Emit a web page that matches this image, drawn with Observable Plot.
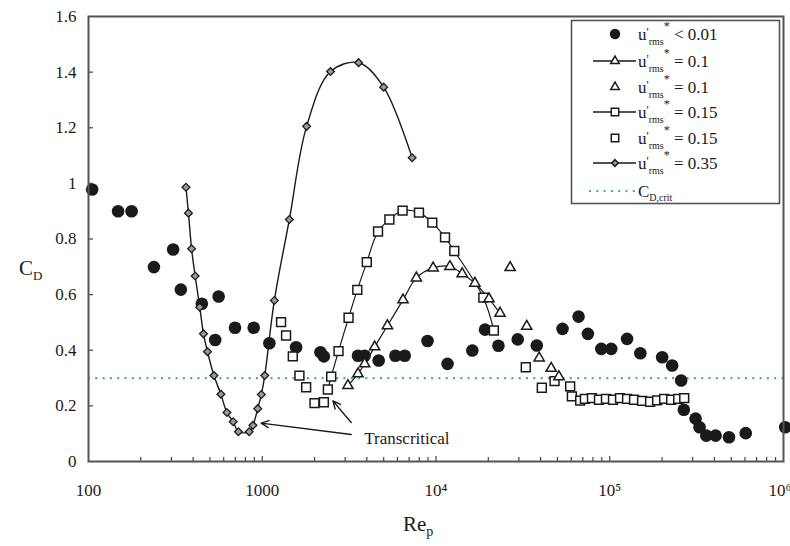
<!DOCTYPE html>
<html><head><meta charset="utf-8">
<script src="https://cdn.jsdelivr.net/npm/d3@7"></script>
<script src="https://cdn.jsdelivr.net/npm/@observablehq/plot@0.6"></script>
<style>
body{margin:0;background:#fff;}
#chart{width:790px;height:546px;}
#chart svg text{font-family:"Liberation Serif","DejaVu Serif",serif;}
</style></head><body><div id="chart"></div>
<script>
// u'rms* < 0.01 (filled circles)
const reLow = [105,148,177,238,307,340,449,561,536,697,893,1099,1566,2163,2262,3556,3883,4677,5838,6606,8940,11650,16180,19150,22870,29540,38010,53490,66150,74860,89400,102000,125800,150000,200300,228600,257600,266900,311800,328700,359400,406700,485700,606200,1023000];
const cdLow = [0.978,0.900,0.900,0.699,0.762,0.618,0.567,0.593,0.437,0.481,0.481,0.425,0.411,0.393,0.378,0.380,0.380,0.363,0.380,0.380,0.433,0.351,0.399,0.474,0.416,0.439,0.417,0.477,0.521,0.459,0.405,0.405,0.441,0.389,0.375,0.345,0.291,0.186,0.154,0.123,0.093,0.093,0.087,0.102,0.123];
// u'rms* = 0.1 (triangles with line)
const reTriLine = [3112,3556,3884,4437,5252,6460,7710,9630,12020,14150,16750,20180,23360];
const cdTriLine = [0.273,0.315,0.351,0.412,0.488,0.581,0.660,0.696,0.701,0.675,0.641,0.585,0.533];
// u'rms* = 0.1 (triangles only)
const reTri = [26700,33270,39240,46000,51000];
const cdTri = [0.697,0.486,0.372,0.335,0.305];
// u'rms* = 0.15 (squares with line)
const reSqLine = [2386,2494,2748,3139,3524,3997,4639,5390,6424,7979,9520,11270,12740,18730,21530];
const cdSqLine = [0.259,0.305,0.397,0.517,0.617,0.717,0.827,0.870,0.902,0.895,0.859,0.806,0.757,0.589,0.471];
// u'rms* = 0.15 (squares only)
const reSq = [1283,1371,1499,1637,1789,1998,2263,32860,40640,48100,59180,60520,67600,71940,78970,86700,95100,104400,114600,125800,138000,153500,170700,187400,205600,225700,247700,268300];
const cdSq = [0.501,0.453,0.378,0.309,0.267,0.210,0.213,0.339,0.265,0.289,0.270,0.234,0.219,0.225,0.228,0.222,0.225,0.222,0.228,0.225,0.222,0.218,0.215,0.220,0.225,0.222,0.225,0.228];
// u'rms* = 0.35 (diamonds with line)
const reDia = [364,376,392,411,437,459,484,527,578,626,680,729,841,884,942,988,1034,1174,1432,1800,2471,3585,4996,7290];
const cdDia = [0.986,0.893,0.765,0.667,0.555,0.459,0.395,0.309,0.242,0.176,0.143,0.107,0.107,0.130,0.190,0.241,0.309,0.579,0.870,1.205,1.402,1.434,1.346,1.092];
// critical drag coefficient
const cdCrit = [0.3];

const legendLabels = ["< 0.01","= 0.1","= 0.1","= 0.15","= 0.15","= 0.35"];
const yTicks = [0,0.2,0.4,0.6,0.8,1,1.2,1.4,1.6];
const yTickLabels = ["0","0.2","0.4","0.6","0.8","1","1.2","1.4","1.6"];
const xTicks = [100,1000,1e4,1e5,1e6];
const xTickLabels = ["100","1000","10\u2074","10\u2075","10\u2076"];

// annotation
const annText = ["Transcritical"];
const annX = [3863], annY = [0.083];
const arrX1 = [3250,3250], arrY1 = [0.097,0.140];
const arrX2 = [985,2551],  arrY2 = [0.138,0.218];

const W = 790, H = 546, mL = 88, mR = 7, mT = 16, mB = 85;
const pw = W - mL - mR, ph = H - mT - mB;
const xMinor = [];
for (let e = 2; e < 6; e++) for (let k = 2; k < 10; k++) xMinor.push(k * 10 ** e);

const zip = (a, b) => a.map((v, i) => ({x: v, y: b[i]}));
const low = zip(reLow, cdLow), triL = zip(reTriLine, cdTriLine), tri = zip(reTri, cdTri);
const sqL = zip(reSqLine, cdSqLine), sq = zip(reSq, cdSq), dia = zip(reDia, cdDia);
const ink = "#1a1a1a";
const teal = "#4fa89a";
const fam = '"Liberation Serif", "DejaVu Serif", serif';
const xFmt = d => xTickLabels[xTicks.indexOf(d)];

const plot = Plot.plot({
  width: W, height: H, marginLeft: mL, marginRight: mR, marginTop: mT, marginBottom: mB,
  style: {fontFamily: fam, fontSize: "17px", color: ink, background: "#fff"},
  x: {type: "log", domain: [100, 1e6], label: null},
  y: {domain: [0, 1.6], label: null},
  marks: [
    Plot.ruleY(cdCrit, {stroke: teal, strokeWidth: 2.2, strokeDasharray: "2,5.3"}),
    Plot.line(dia, {x: "x", y: "y", curve: "catmull-rom", stroke: ink, strokeWidth: 1.4}),
    Plot.line(sqL, {x: "x", y: "y", curve: "catmull-rom", stroke: ink, strokeWidth: 1.2}),
    Plot.line(triL, {x: "x", y: "y", curve: "catmull-rom", stroke: ink, strokeWidth: 1.2}),
    Plot.dot(low, {x: "x", y: "y", r: 6.3, fill: ink, stroke: "none"}),
    Plot.dot(sq, {x: "x", y: "y", symbol: "square", r: 5, fill: "#fff", stroke: ink, strokeWidth: 1.5}),
    Plot.dot(sqL, {x: "x", y: "y", symbol: "square", r: 5, fill: "#fff", stroke: ink, strokeWidth: 1.5}),
    Plot.dot(tri, {x: "x", y: "y", symbol: "triangle", r: 3.8, fill: "#fff", stroke: ink, strokeWidth: 1.5}),
    Plot.dot(triL, {x: "x", y: "y", symbol: "triangle", r: 3.8, fill: "#fff", stroke: ink, strokeWidth: 1.5}),
    Plot.dot(dia, {x: "x", y: "y", symbol: "diamond2", r: 3.5, fill: "#999", stroke: ink, strokeWidth: 1.3}),
    Plot.ruleY(yTicks.slice(1, -1), {insetRight: pw - 5, stroke: "#444", strokeWidth: 1.2}),
    Plot.ruleX(xMinor, {insetTop: ph - 4, stroke: "#444", strokeWidth: 1.2}),
    Plot.ruleX(xTicks.slice(1, -1), {insetTop: ph - 5, stroke: "#444", strokeWidth: 1.2}),
    Plot.axisY(yTicks, {tickSize: 0, tickPadding: 12, fontSize: 17, tickFormat: d => yTickLabels[yTicks.indexOf(d)]}),
    Plot.axisX(xTicks.slice(0, -1), {tickSize: 0, tickPadding: 22, fontSize: 17, tickFormat: xFmt}),
    Plot.axisX(xTicks.slice(-1), {tickSize: 0, tickPadding: 22, fontSize: 17, tickFormat: xFmt, textAnchor: "end", dx: 8}),
    Plot.frame({stroke: "#555", strokeWidth: 2}),
    Plot.arrow(arrX1, {x1: arrX1, y1: arrY1, x2: arrX2, y2: arrY2, stroke: ink, strokeWidth: 1.4, headLength: 9, headAngle: 50}),
    Plot.text(annText, {x: annX, y: annY, text: annText, textAnchor: "start", fontSize: 17, fill: ink})
  ]
});
document.getElementById("chart").appendChild(plot);

// axis titles and legend (added into the same SVG)
const svg = d3.select(plot);
const cd = svg.append("text").attr("x", 19).attr("y", 275).attr("text-anchor", "start").attr("font-size", 21).attr("fill", ink);
cd.append("tspan").text("C");
cd.append("tspan").text("D").attr("font-size", 13).attr("dy", 5);
const rep = svg.append("text").attr("x", 403).attr("y", 531).attr("text-anchor", "start").attr("font-size", 21).attr("fill", ink);
rep.append("tspan").text("Re");
rep.append("tspan").text("p").attr("font-size", 14).attr("dy", 5);

const lg = svg.append("g").attr("font-size", 17).attr("fill", ink).attr("text-anchor", "start");
lg.append("rect").attr("x", 571.5).attr("y", 20.5).attr("width", 208).attr("height", 183)
  .attr("fill", "#fff").attr("stroke", "#555").attr("stroke-width", 1.6);
const rows = [
  {sym: d3.symbolCircle, r: 5.2, line: false, fill: ink},
  {sym: d3.symbolTriangle, r: 3.2, line: true, fill: "#fff"},
  {sym: d3.symbolTriangle, r: 3.2, line: false, fill: "#fff"},
  {sym: d3.symbolSquare, r: 4.2, line: true, fill: "#fff"},
  {sym: d3.symbolSquare, r: 4.2, line: false, fill: "#fff"},
  {sym: d3.symbolDiamond2, r: 3, line: true, fill: "#999"}
];
const rowY = [34, 61, 87, 112, 138, 163, 191];
const sx = 615;
rows.forEach((r, i) => {
  const y = rowY[i];
  if (r.line) lg.append("line").attr("x1", 593).attr("x2", 636).attr("y1", y).attr("y2", y).attr("stroke", ink).attr("stroke-width", 1.4);
  lg.append("path").attr("d", d3.symbol(r.sym, Math.PI * r.r * r.r)()).attr("transform", `translate(${sx},${y})`)
    .attr("fill", r.fill).attr("stroke", r.fill === ink ? "none" : ink).attr("stroke-width", 1.5);
  const t = lg.append("text").attr("x", 638).attr("y", y + 6);
  t.append("tspan").text("u");
  t.append("tspan").text("'").attr("font-size", 12).attr("dy", -4);
  t.append("tspan").text("rms").attr("font-size", 10).attr("dy", 9);
  t.append("tspan").text("*").attr("font-size", 12).attr("dy", -15);
  t.append("tspan").text(" " + legendLabels[i]).attr("dy", 10);
});
const yc = rowY[6];
lg.append("line").attr("x1", 589).attr("x2", 637).attr("y1", yc).attr("y2", yc).attr("stroke", teal).attr("stroke-width", 2.2).attr("stroke-dasharray", "2,5.3");
const tc = lg.append("text").attr("x", 638).attr("y", yc + 6);
tc.append("tspan").text("C");
tc.append("tspan").text("D,crit").attr("font-size", 10).attr("dy", 4);
</script></body></html>
